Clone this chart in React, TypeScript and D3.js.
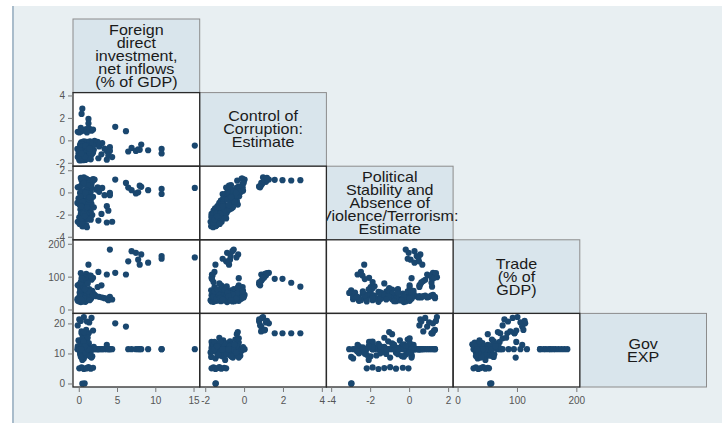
import React from "react";
import * as d3 from "d3";

// Variable header labels (diagonal)
const labelLines: string[][] = [
  ["Foreign", "direct", "investment,", "net inflows", "(% of GDP)"],
  ["Control of", "Corruption:", "Estimate"],
  ["Political", "Stability and", "Absence of", "Violence/Terrorism:", "Estimate"],
  ["Trade", "(% of", "GDP)"],
  ["Gov", "EXP"],
];

// Axis domains / ticks per variable
const xDomains: [number, number][] = [
  [-0.82, 15.74],
  [-2.31, 4.21],
  [-4.27, 2.23],
  [-8.4, 205],
];
const yDomains: [number, number][] = [
  [0, 1],
  [-2.26, 4.3],
  [-4.23, 2.41],
  [-10.3, 213.6],
  [-1, 23.5],
];
const xTicks: number[][] = [
  [0, 5, 10, 15],
  [-2, 0, 2, 4],
  [-4, -2, 0, 2],
  [0, 100, 200],
];
const yTicks: number[][] = [[], [-2, 0, 2, 4], [-4, -2, 0, 2], [0, 100, 200], [0, 10, 20]];

// Observations: [FDI, Control of Corruption, Political Stability, Trade, Gov EXP]
const groupHighGov: number[][] = [
  [0.4, 2.87, 1.15, 71, 16.9],
  [0.3, 2.4, 1.12, 83, 16.9],
  [1.2, 1.95, 1.15, 95, 16.9],
  [1.2, 1.55, 1.18, 95, 16.9],
  [4.7, 1.25, 1.2, 113, 20.2],
  [6.1, 0.86, 0.9, 108, 19.1],
  [0.0, 0.75, 0.55, 78, 21.5],
  [0.3, 0.85, 0.7, 88, 17.5],
  [0.6, 0.95, 1.4, 100, 22.3],
  [0.9, 1.05, 1.3, 110, 18.0],
  [1.3, 1.1, 1.0, 105, 20.5],
  [1.6, 0.9, 0.8, 92, 22.0],
  [1.8, 1.0, 1.25, 98, 17.8],
  [-0.2, 0.8, 0.5, 75, 19.5],
  [0.2, 1.15, 1.35, 112, 21.0],
  [1.0, 0.75, 0.6, 84, 20.8],
];
const groupHighTrade: number[][] = [
  [4.0, -0.56, -0.2, 184, 11.6],
  [6.84, -0.63, 0.25, 179, 11.6],
  [7.4, -0.9, -0.05, 174, 11.6],
  [8.1, -0.33, 0.55, 169, 11.6],
  [6.4, -0.95, 0.48, 148, 11.6],
  [7.7, -0.75, 0.05, 153, 11.6],
  [7.9, -0.8, 0.65, 138, 11.6],
  [9.0, -0.84, 0.25, 144, 11.6],
  [10.76, -0.72, 0.36, 164, 11.6],
  [10.76, -1.13, -0.1, 156, 11.6],
  [15.1, -0.42, 0.45, 160, 11.6],
];
const groupLowStability: number[][] = [
  [1.2, -1.5, -2.33, 138, 11.6],
  [2.5, -1.55, -2.5, 116, 11.6],
  [3.6, -1.68, -2.67, 108, 13.0],
  [1.5, -1.65, -2.42, 105, 11.6],
  [0.8, -1.7, -2.08, 98, 14.0],
];
const groupLowGov: number[][] = [
  [0.0, -1.7, -2.2, 26, 5.2],
  [0.3, -1.6, -1.9, 30, 5.5],
  [0.6, -1.5, -1.6, 34, 5.0],
  [0.9, -1.4, -1.3, 38, 5.3],
  [1.2, -1.3, -1.0, 42, 5.6],
  [1.5, -1.2, -0.7, 46, 5.1],
  [1.8, -1.05, -0.35, 50, 5.4],
  [1.0, -0.95, -0.06, 52, 5.2],
  [0.4, -1.5, -3.0, 54, 0.1],
  [0.7, -1.48, -2.98, 56, 0.2],
];
const groupMidFdi: number[][] = [
  [2.2, -0.3, 0.3, 42, 11.6],
  [2.6, -0.5, 0.1, 40, 11.6],
  [3.0, -0.2, 0.45, 38, 11.6],
  [3.3, -0.7, -0.2, 36, 11.6],
  [3.6, -0.9, -1.2, 34, 11.6],
  [4.0, -0.9, 0.0, 40, 11.6],
  [4.3, -1.45, -2.6, 32, 11.6],
  [2.9, -1.2, -1.9, 75, 11.6],
  [3.8, -1.3, -1.6, 30, 11.6],
  [2.4, -0.1, 0.5, 70, 11.6],
  [0.2, -0.2, 0.6, 38, 11.6],
  [0.8, -0.1, 0.8, 44, 11.6],
  [1.4, -0.05, 1.0, 40, 11.6],
  [2.0, 0.0, 1.2, 46, 11.6],
  [0.5, -0.15, 1.3, 36, 11.6],
  [1.6, -0.25, 0.5, 42, 11.6],
];
const groupCore: number[][] = [
  [0.1, -1.75, -2.6, 30, 10.5],
  [0.3, -1.7, -1.9, 45, 12.0],
  [0.5, -1.72, -3.0, 60, 9.0],
  [0.2, -1.65, -2.3, 38, 11.6],
  [0.8, -1.6, -1.6, 25, 13.0],
  [1.0, -1.62, -3.1, 52, 11.6],
  [0.4, -1.55, -2.0, 70, 14.0],
  [0.6, -1.5, -2.9, 33, 8.5],
  [1.3, -1.52, -1.4, 48, 11.6],
  [-0.2, -1.45, -2.6, 28, 12.5],
  [0.7, -1.4, -1.2, 56, 10.0],
  [0.9, -1.42, -2.9, 40, 11.6],
  [1.5, -1.35, -1.7, 35, 9.5],
  [0.2, -1.3, -0.9, 62, 13.5],
  [0.5, -1.32, -2.5, 30, 11.6],
  [1.1, -1.25, -1.3, 44, 10.8],
  [0.3, -1.2, -2.4, 50, 12.2],
  [0.8, -1.22, -0.7, 27, 11.6],
  [1.7, -1.15, -2.0, 58, 9.2],
  [-0.1, -1.1, -0.5, 36, 14.5],
  [0.6, -1.12, -1.9, 66, 11.6],
  [1.2, -1.05, -0.4, 31, 12.8],
  [0.4, -1.0, -2.1, 46, 8.0],
  [0.9, -0.98, -0.1, 39, 11.6],
  [1.4, -0.95, -1.5, 54, 10.2],
  [0.2, -0.9, -0.3, 24, 13.2],
  [0.7, -0.92, -1.8, 72, 11.6],
  [1.0, -0.85, -0.2, 35, 9.8],
  [1.9, -0.8, -1.3, 48, 12.4],
  [0.3, -0.82, -0.5, 29, 11.6],
  [0.5, -0.75, -1.1, 60, 14.2],
  [1.1, -0.7, 0.7, 42, 11.6],
  [-0.25, -0.72, -0.9, 33, 11.6],
  [0.8, -0.65, 0.2, 50, 13.0],
  [1.6, -0.6, -1.0, 38, 8.8],
  [0.4, -0.62, -0.2, 26, 11.6],
  [1.3, -0.55, -0.6, 64, 12.0],
  [0.6, -0.5, 0.1, 44, 9.6],
  [0.2, -0.45, -0.4, 31, 11.6],
  [1.0, -0.48, -0.1, 57, 14.8],
  [0.9, -0.4, -0.7, 36, 10.4],
  [1.8, -0.38, 1.1, 44, 11.6],
  [0.1, -0.35, 0.0, 68, 12.6],
  [0.5, -0.3, 0.0, 28, 13.8],
  [1.2, -0.28, -0.3, 40, 11.6],
  [0.7, -0.22, 0.1, 52, 9.4],
  [1.5, -0.18, 0.1, 34, 10.9],
  [0.3, -0.12, 1.3, 40, 11.6],
  [1.0, -0.08, 0.2, 58, 12.3],
  [0.6, -0.05, 0.9, 38, 11.6],
  [0.15, -1.38, -1.5, 42, 11.6],
  [0.45, -1.18, -2.6, 38, 10.2],
  [0.75, -1.08, -0.8, 47, 11.6],
  [0.35, -0.88, -1.6, 55, 12.9],
  [1.05, -0.78, 0.0, 31, 11.6],
  [0.25, -0.68, -1.4, 49, 10.7],
  [0.55, -0.58, 0.1, 37, 11.6],
  [0.85, -1.48, -1.8, 43, 12.1],
  [0.05, -1.28, -2.8, 53, 11.6],
  [1.25, -0.98, -1.9, 41, 13.6],
  [0.65, -1.58, -2.2, 36, 11.6],
  [0.95, -0.42, -0.2, 30, 12.7],
  [0.15, -1.02, -0.6, 61, 9.9],
  [1.45, -1.12, -2.3, 45, 11.6],
  [0.4, -0.3, 0.0, 75, 15.2],
  [0.9, -0.4, -0.9, 50, 16.6],
  [0.6, -0.35, -1.05, 67, 17.3],
  [1.1, -1.3, -1.3, 81, 15.4],
  [0.2, -1.6, -1.9, 85, 11.6],
  [0.5, -1.68, -2.3, 94, 11.6],
  [0.3, -0.3, 0.1, 97, 8.8],
];
const groupCoreExtra: number[][] = [
  [0.35, -1.62, -2.7, 41, 10.9],
  [0.9, -1.45, -1.9, 34, 12.3],
  [0.15, -1.35, -2.2, 47, 9.7],
  [1.1, -1.18, -1.0, 39, 11.6],
  [0.6, -1.05, -1.6, 29, 13.4],
  [0.3, -0.95, -2.3, 44, 10.1],
  [1.3, -0.88, -0.6, 52, 11.6],
  [0.7, -0.78, -1.5, 33, 12.5],
  [0.2, -0.66, -0.3, 40, 9.1],
  [1.0, -0.6, -1.3, 46, 11.6],
  [0.45, -0.52, -0.8, 27, 13.1],
  [0.8, -0.44, 0.0, 35, 10.5],
  [1.15, -1.55, -2.4, 57, 11.6],
  [0.55, -1.26, -1.9, 36, 14.1],
  [0.05, -0.82, -1.1, 42, 11.6],
  [1.35, -0.7, -0.4, 30, 9.3],
  [0.75, -1.42, -2.1, 63, 12.6],
  [0.25, -1.12, -1.2, 32, 11.6],
];

const observations: number[][] = [
  ...groupHighGov,
  ...groupHighTrade,
  ...groupLowStability,
  ...groupLowGov,
  ...groupMidFdi,
  ...groupCore,
  ...groupCoreExtra,
];

const W = 722;
const H = 423;
const gridLeft = 73;
const gridTop = 19;
const cellW = 126.7;
const cellH = 73.6;
const N = 5;

const FONT = "'Liberation Sans', Arial, Helvetica, sans-serif";
const DOT = "#1a476f";

export default function App() {
  const cells: React.ReactNode[] = [];
  const points: React.ReactNode[] = [];
  const outlines: React.ReactNode[] = [];
  const headers: React.ReactNode[] = [];

  for (let i = 0; i < N; i++) {
    for (let j = 0; j <= i; j++) {
      const x0 = gridLeft + j * cellW;
      const y0 = gridTop + i * cellH;
      if (i === j) {
        const lines = labelLines[i];
        const cx = x0 + cellW / 2;
        const cy = y0 + cellH / 2;
        const lh = 13;
        headers.push(
          <g key={`h${i}`}>
            <rect x={x0} y={y0} width={cellW} height={cellH} fill="#d9e5ec" stroke="#8c8c8c" strokeWidth={1} />
            {lines.map((ln, k) => (
              <text
                key={k}
                transform={`translate(${cx},${cy - ((lines.length - 1) / 2) * lh + 5 + k * lh}) scale(1.15,1)`}
                textAnchor="middle"
                fontFamily={FONT}
                fontSize={14}
                fill="#1a1a1a"
              >
                {ln}
              </text>
            ))}
          </g>
        );
      } else {
        const xs = d3.scaleLinear().domain(xDomains[j]).range([x0, x0 + cellW]);
        const ys = d3.scaleLinear().domain(yDomains[i]).range([y0 + cellH, y0]);
        cells.push(<rect key={`c${i}-${j}`} x={x0} y={y0} width={cellW} height={cellH} fill="#ffffff" />);
        observations.forEach((o, k) => {
          points.push(
            <circle key={`p${i}-${j}-${k}`} cx={xs(o[j])} cy={ys(o[i])} r={3.1} fill={DOT} />
          );
        });
        outlines.push(
          <rect key={`o${i}-${j}`} x={x0} y={y0} width={cellW} height={cellH} fill="none" stroke="#2a2a2a" strokeWidth={1.3} />
        );
      }
    }
  }

  // Y axes (left side, rows 1..4)
  const yAxes: React.ReactNode[] = [];
  for (let i = 1; i < N; i++) {
    const y0 = gridTop + i * cellH;
    const ys = d3.scaleLinear().domain(yDomains[i]).range([y0 + cellH, y0]);
    yTicks[i].forEach((t) => {
      yAxes.push(
        <g key={`yt${i}-${t}`}>
          <line x1={gridLeft - 5} x2={gridLeft} y1={ys(t)} y2={ys(t)} stroke="#777" strokeWidth={1} />
          <text x={gridLeft - 8} y={ys(t)} dy="0.35em" textAnchor="end" fontFamily={FONT} fontSize={10} fill="#555">
            {t}
          </text>
        </g>
      );
    });
  }

  // X axes (bottom, columns 0..3)
  const xAxes: React.ReactNode[] = [];
  const yb = gridTop + N * cellH;
  for (let j = 0; j < N - 1; j++) {
    const x0 = gridLeft + j * cellW;
    const xs = d3.scaleLinear().domain(xDomains[j]).range([x0, x0 + cellW]);
    xTicks[j].forEach((t) => {
      xAxes.push(
        <g key={`xt${j}-${t}`}>
          <line x1={xs(t)} x2={xs(t)} y1={yb} y2={yb + 5} stroke="#777" strokeWidth={1} />
          <text x={xs(t)} y={yb + 17} textAnchor="middle" fontFamily={FONT} fontSize={10} fill="#555">
            {t}
          </text>
        </g>
      );
    });
  }

  return (
    <svg
      width={W}
      height={H}
      viewBox={`0 0 ${W} ${H}`}
      style={{ position: "absolute", left: 0, top: 0, display: "block" }}
    >
      <rect x={0} y={0} width={W} height={H} fill="#ffffff" />
      <rect x={13} y={6} width={W - 13} height={H - 6} fill="#e8eff2" />
      <line x1={13} x2={13} y1={6} y2={H} stroke="#a9bccb" strokeWidth={2} />
      {headers}
      {cells}
      <g>{points}</g>
      {outlines}
      {yAxes}
      {xAxes}
    </svg>
  );
}
